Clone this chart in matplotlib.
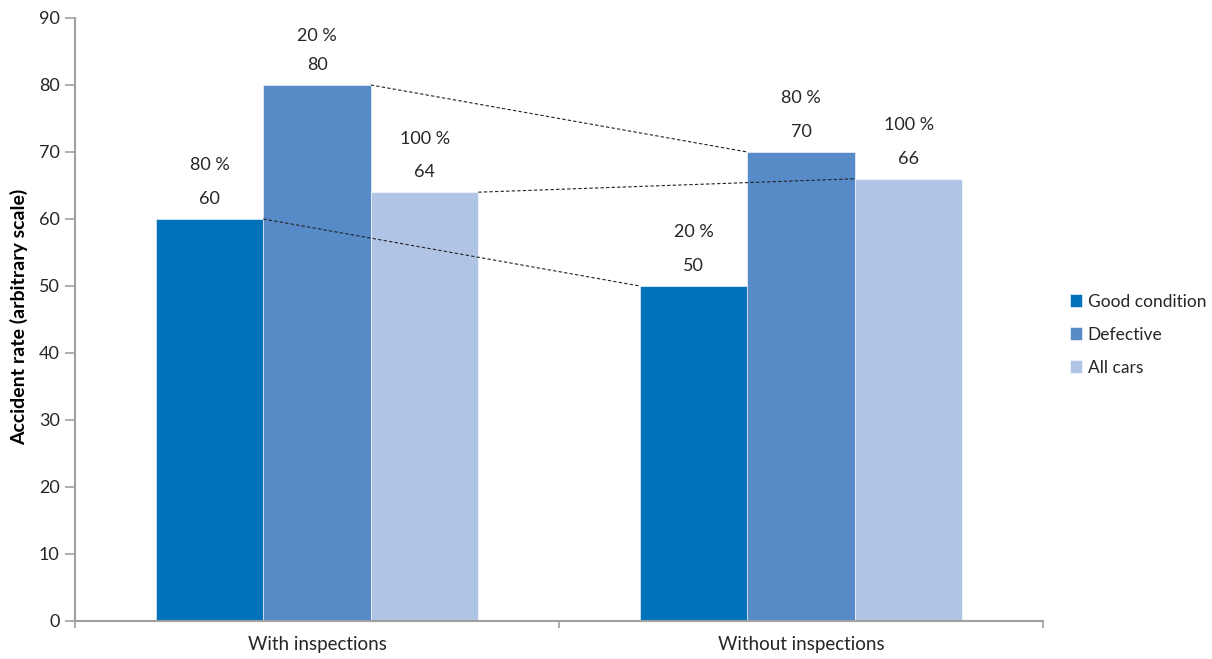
import matplotlib
matplotlib.use("Agg")
import matplotlib.pyplot as plt
import numpy as np

plt.rcParams['font.family'] = ['Lato', 'DejaVu Sans']

categories = ["With inspections", "Without inspections"]
series = ["Good condition", "Defective", "All cars"]
values = {
    "Good condition": [60, 50],
    "Defective": [80, 70],
    "All cars": [64, 66],
}
shares = {
    "Good condition": ["80 %", "20 %"],
    "Defective": ["20 %", "80 %"],
    "All cars": ["100 %", "100 %"],
}
colors = {
    "Good condition": "#0072BC",
    "Defective": "#578BC8",
    "All cars": "#B0C5E5",
}
yticks = list(range(0, 91, 10))

fig = plt.figure(figsize=(12.12, 6.59), dpi=100)
ax = fig.add_axes([0.0619, 0.0577, 0.7987, 0.915])

x = np.arange(len(categories))
width = 0.2222
offsets = [-width, 0, width]
text_col = "#262626"

for s, off in zip(series, offsets):
    vals = values[s]
    ax.bar(x + off, vals, width=width, color=colors[s], edgecolor="white",
           linewidth=0.4, label=s, zorder=2)
    for xi, v, p in zip(x, vals, shares[s]):
        ax.text(xi + off, v + 3.0, f"{v}", ha="center", va="center",
                fontsize=13, color=text_col)
        ax.text(xi + off, min(v + 8.0, 87.3), p, ha="center", va="center",
                fontsize=13, color=text_col)

# dashed connectors between the same series across categories
for s, off in zip(series, offsets):
    v0, v1 = values[s]
    ax.plot([x[0] + off + width / 2, x[1] + off - width / 2], [v0, v1],
            color="#222222", linestyle=(0, (3, 2)), linewidth=0.8, zorder=3)

ax.set_xlim(-0.5, 1.5)
ax.set_ylim(0, 90)
ax.set_yticks(yticks)
ax.set_yticklabels([str(t) for t in yticks], fontsize=13, color=text_col)

ax.set_xticks([-0.5, 0.5, 1.5])
ax.set_xticklabels([])
ax.set_xticks(x, minor=True)
ax.set_xticklabels(categories, minor=True, fontsize=13.5, color=text_col)
ax.tick_params(axis="x", which="minor", length=0, pad=11)
ax.tick_params(axis="x", which="major", length=5, color="#A0A0A0", width=1.2)
ax.tick_params(axis="y", length=7, color="#A0A0A0", width=1.2, pad=4)

for sp in ["top", "right"]:
    ax.spines[sp].set_visible(False)
for sp in ["left", "bottom"]:
    ax.spines[sp].set_color("#A0A0A0")
    ax.spines[sp].set_linewidth(1.5)

ax.set_ylabel("Accident rate (arbitrary scale)", fontsize=14, fontweight="bold",
              color="black", labelpad=10)
ax.yaxis.set_label_coords(-0.048, 0.505)

leg = ax.legend(loc="center left", bbox_to_anchor=(1.012, 0.475), frameon=False,
                fontsize=12.5, handlelength=0.7, handleheight=0.7,
                handletextpad=0.3, labelspacing=0.98)
for t in leg.get_texts():
    t.set_color(text_col)

fig.savefig("out.png", dpi=100)
